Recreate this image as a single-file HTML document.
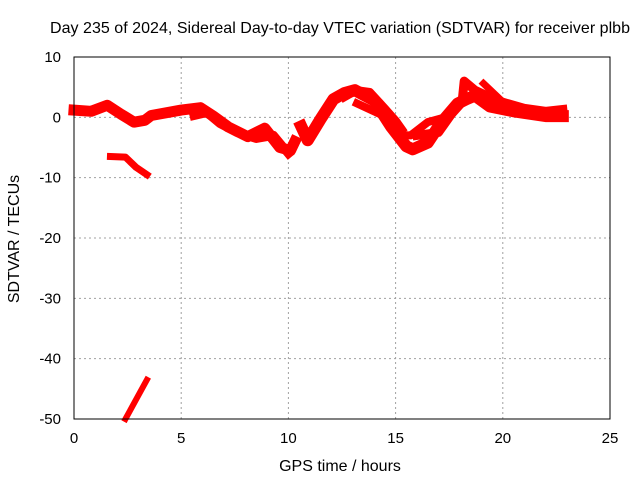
<!DOCTYPE html>
<html><head><meta charset="utf-8"><style>
body{margin:0;background:#fff;font-family:"Liberation Sans",sans-serif}
svg text{font-family:"Liberation Sans",sans-serif;font-size:15px;fill:#000}
svg text.big{font-size:16px}
</style></head><body>
<svg width="640" height="480" id="c">
<rect width="640" height="480" fill="#fff"/>
<text class="big" x="340" y="33" text-anchor="middle" textLength="580">Day 235 of 2024, Sidereal Day-to-day VTEC variation (SDTVAR) for receiver plbb</text>
<text class="big" x="340" y="471" text-anchor="middle">GPS time / hours</text>
<text class="big" transform="translate(19,239) rotate(-90)" text-anchor="middle">SDTVAR / TECUs</text>
<g id="grid"></g><g id="marks"></g>
<rect x="74" y="57" width="536" height="362" fill="none" stroke="#000"/>
</svg>
<script>
const xTicks=[0,5,10,15,20,25];
const yTicks=[10,0,-10,-20,-30,-40,-50];
const trackMain=[[0,1.2],[0.8,1],[1.55,2],[2.2,0.5],[2.8,-0.8],[3.3,-0.5],[3.6,0.3],[5,1.2],[5.9,1.6],[6.5,0.2],[7.2,-1.6],[8.1,-3.2],[8.9,-1.8],[9.6,-5],[10.1,-5.5],[10.3,-4]];
const trackLower=[[5.6,0.3],[6.2,0.8],[6.8,-1],[7.6,-2.5],[8.5,-3.5],[9.3,-3],[10,-6]];
const trackMid=[[10.6,-1.5],[10.9,-3.8],[11.5,-0.3],[12.1,3],[12.6,4],[13.1,4.5],[14,2.8],[14.8,-1.6],[15.5,-4.8],[15.8,-5.3],[16.5,-4.2],[17.1,-1],[17.9,2.3],[18.3,3],[18.7,3.6],[19.4,1.8],[20.5,1],[22,0.2],[22.8,0.2]];
const trackUpper=[[12.6,3.3],[13.2,4.5],[13.8,4.2],[14.5,1.5],[15,-0.5],[15.3,-2]];
const trackSecond=[[13.2,2.3],[14.3,0.5],[15.2,-2.9],[15.7,-3],[16.5,-0.8],[17,-0.3]];
const trackRise=[[16,-3],[17,-2.5],[17.6,0.5],[18.1,2.5],[18.2,6],[18.7,4.5],[19.3,3.5],[20,2.5],[21,1.5],[22,1],[22.8,1.3]];
const trackThird=[[19.1,5.6],[19.9,2.9],[20.4,1.1]];
const trackNeg=[[1.7,-6.5],[2.4,-6.6],[2.9,-8.3],[3.4,-9.5]];
const trackLine=[[2.4,-50],[3.4,-43.5]];
const tracks=[trackMain,trackLower,trackMid,trackUpper,trackSecond,trackRise,trackThird,trackNeg,trackLine];
const widths=[11,9,12,8,8,9,7,7,6];
const X=h=>74+h*(536/25), Y=v=>57+(10-v)*(362/60);
const NS='http://www.w3.org/2000/svg';
const g=document.getElementById('grid'), m=document.getElementById('marks');
xTicks.forEach(t=>{
 if(t>0&&t<25){const l=document.createElementNS(NS,'line');
 
 
 l.setAttribute('x1',X(t));l.setAttribute('x2',X(t));l.setAttribute('y1',57);l.setAttribute('y2',419);
 l.setAttribute('stroke','#a0a0a0');l.setAttribute('stroke-dasharray','2,3');g.appendChild(l);}
 const s=document.createElementNS(NS,'text');
 
 
 s.setAttribute('x',X(t));s.setAttribute('y',443);s.setAttribute('text-anchor','middle');s.textContent=t;g.appendChild(s);
});
yTicks.forEach(t=>{
 if(t<10&&t>-50){const l=document.createElementNS(NS,'line');
 
 
 l.setAttribute('x1',74);l.setAttribute('x2',610);l.setAttribute('y1',Y(t));l.setAttribute('y2',Y(t));
 l.setAttribute('stroke','#a0a0a0');l.setAttribute('stroke-dasharray','2,3');g.appendChild(l);}
 const s=document.createElementNS(NS,'text');
 
 
 s.setAttribute('x',61);s.setAttribute('y',Y(t)+5);s.setAttribute('text-anchor','end');s.textContent=t;g.appendChild(s);
});
tracks.forEach((tr,i)=>{
 const p=document.createElementNS(NS,'polyline');
 
 
 p.setAttribute('points',tr.map(d=>X(d[0])+','+Y(d[1])).join(' '));
 p.setAttribute('fill','none');p.setAttribute('stroke','#ff0000');p.setAttribute('stroke-width',widths[i]);
 p.setAttribute('stroke-linejoin','round');p.setAttribute('stroke-linecap','square');
 m.appendChild(p);
});
</script>
</body></html>
